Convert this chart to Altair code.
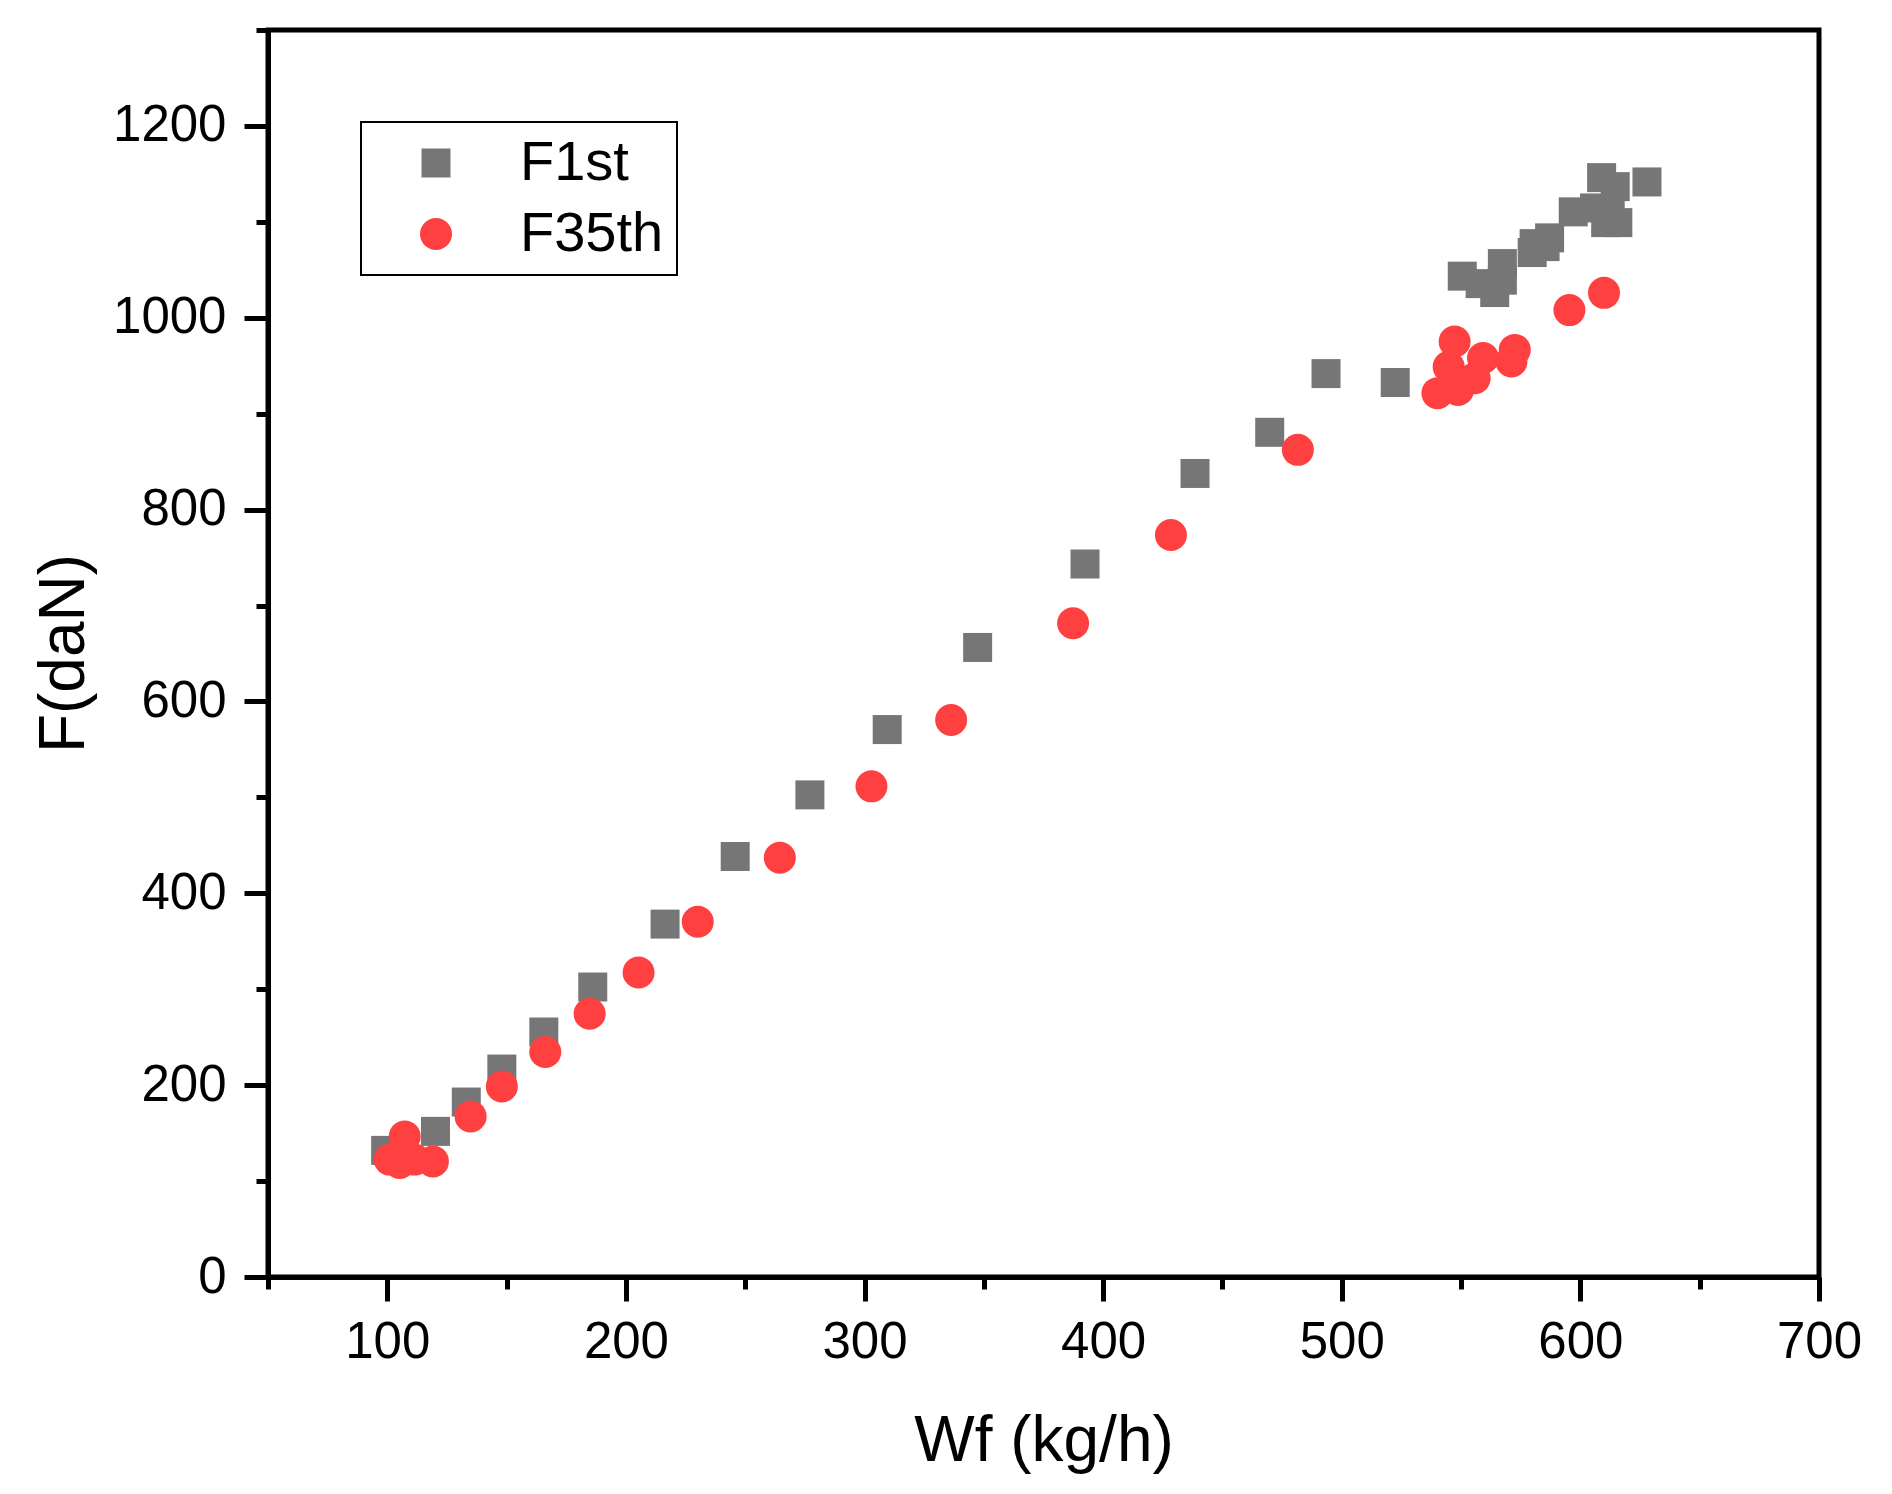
import pandas as pd
import altair as alt

FONT = "Liberation Sans"

# F1st series (Wf kg/h, F daN)
f1st_wf = [99.3, 120.2, 133.1, 148.0, 165.6, 186.1, 216.4, 245.8, 277.1, 309.5,
           347.4, 392.4, 438.5, 469.8, 493.4, 522.4,
           550.5, 558.0, 564.1, 567.3, 567.3, 579.8, 585.2, 587.1, 580.6,
           597.0, 605.9, 608.9, 614.6, 610.6, 615.7, 612.5, 627.9]
f1st_f = [132, 151.8, 182.4, 216.8, 255.4, 302.3, 367.9, 438.4, 502.6, 570.7,
          656.3, 743.3, 837.7, 880.6, 941.8, 932.5,
          1043.4, 1035.6, 1026.3, 1056.5, 1039.2, 1068, 1074.2, 1083.3, 1077.3,
          1110.4, 1114.5, 1146.1, 1136.7, 1099.2, 1099.2, 1109, 1141.6]

# F35th series
f35_wf = [101.0, 105.2, 111.4, 119.1, 107.3, 134.9, 148.0, 166.2, 184.8, 205.3,
          230.1, 264.5, 302.9, 336.3, 387.4, 428.4, 481.6,
          540.1, 548.7, 544.8, 555.7, 547.3, 559.2, 571.1, 572.5, 595.4, 609.9]
f35_f = [122.4, 118.9, 122.4, 120.5, 146.5, 167.4, 198.7, 234.5, 274.4, 317.5,
         370.4, 437.1, 511.5, 580.7, 681.5, 773.5, 862.3,
         921.4, 924.8, 949.0, 937.0, 975.2, 958.0, 954.4, 966.5, 1008.0, 1026.0]

series_names = ["F1st", "F35th"]
series_colors = ["#767676", "#FF4040"]
series_shapes = ["square", "circle"]

x_major = [100, 200, 300, 400, 500, 600, 700]
x_minor = [50, 150, 250, 350, 450, 550, 650]
y_major = [0, 200, 400, 600, 800, 1000, 1200]
y_minor = [100, 300, 500, 700, 900, 1100, 1300]

df = pd.concat([
    pd.DataFrame({"wf": f1st_wf, "f": f1st_f, "series": "F1st"}),
    pd.DataFrame({"wf": f35_wf, "f": f35_f, "series": "F35th"}),
], ignore_index=True)
df["order"] = range(len(df))

x_scale = alt.Scale(domain=[50, 700], nice=False, zero=False)
y_scale = alt.Scale(domain=[0, 1300], nice=False)

points = alt.Chart(df).mark_point(filled=True, opacity=1, strokeWidth=0).encode(
    x=alt.X("wf:Q", scale=x_scale, axis=alt.Axis(
        values=x_major, format="d", title="Wf (kg/h)", orient="bottom",
        tickSize=24, tickWidth=5, domainWidth=5, labelPadding=16, labelFlush=False,
        labelFontSize=51, titleFontSize=64, titleFontWeight="normal",
        titleBaseline="alphabetic", titleY=183, grid=False,
    )),
    y=alt.Y("f:Q", scale=y_scale, axis=alt.Axis(
        values=y_major, format="d", title="F(daN)", orient="left",
        tickSize=24, tickWidth=5, domainWidth=5, labelPadding=18, labelFlush=False,
        labelFontSize=51, titleFontSize=64, titleFontWeight="normal",
        titleAngle=270, titleBaseline="alphabetic", titleAlign="center",
        titleX=-185, titleY=623, grid=False,
    )),
    color=alt.Color("series:N", scale=alt.Scale(domain=series_names, range=series_colors),
                    legend=alt.Legend(
                        title=None, orient="none", legendX=93, legendY=92,
                        strokeColor="black", padding=13,
                        symbolOffset=34, labelOffset=56,
                        labelFontSize=56, symbolSize=784, labelLimit=400,
                        symbolStrokeWidth=0,
                    )),
    shape=alt.Shape("series:N", scale=alt.Scale(domain=series_names, range=series_shapes)),
    size=alt.Size("series:N", scale=alt.Scale(domain=series_names, range=[841, 1024]),
                  legend=None),
    order=alt.Order("order:Q"),
)

# second set of axes carrying only the short minor ticks
minor = alt.Chart(df).mark_point(opacity=0).encode(
    x=alt.X("wf:Q", scale=x_scale, axis=alt.Axis(
        values=x_minor, orient="bottom", labels=False, domain=False,
        tickSize=12, tickWidth=5, title=None, grid=False,
    )),
    y=alt.Y("f:Q", scale=y_scale, axis=alt.Axis(
        values=y_minor, orient="left", labels=False, domain=False,
        tickSize=12, tickWidth=5, title=None, grid=False,
    )),
)

chart = alt.layer(points, minor).resolve_axis(
    x="independent", y="independent"
).properties(
    width=1551, height=1247,
    autosize=alt.AutoSizeParams(type="none"),
    padding={"left": 260, "top": 22, "right": 50, "bottom": 200},
).configure_axis(
    labelFont=FONT, titleFont=FONT, labelColor="black", titleColor="black",
    domainColor="black", tickColor="black",
).configure_legend(
    labelFont=FONT, labelColor="black", strokeWidth=2, rowPadding=15,
).configure_view(
    stroke="black", strokeWidth=5,
)

chart.save("out.html", embed_options={"renderer": "svg", "actions": False})
